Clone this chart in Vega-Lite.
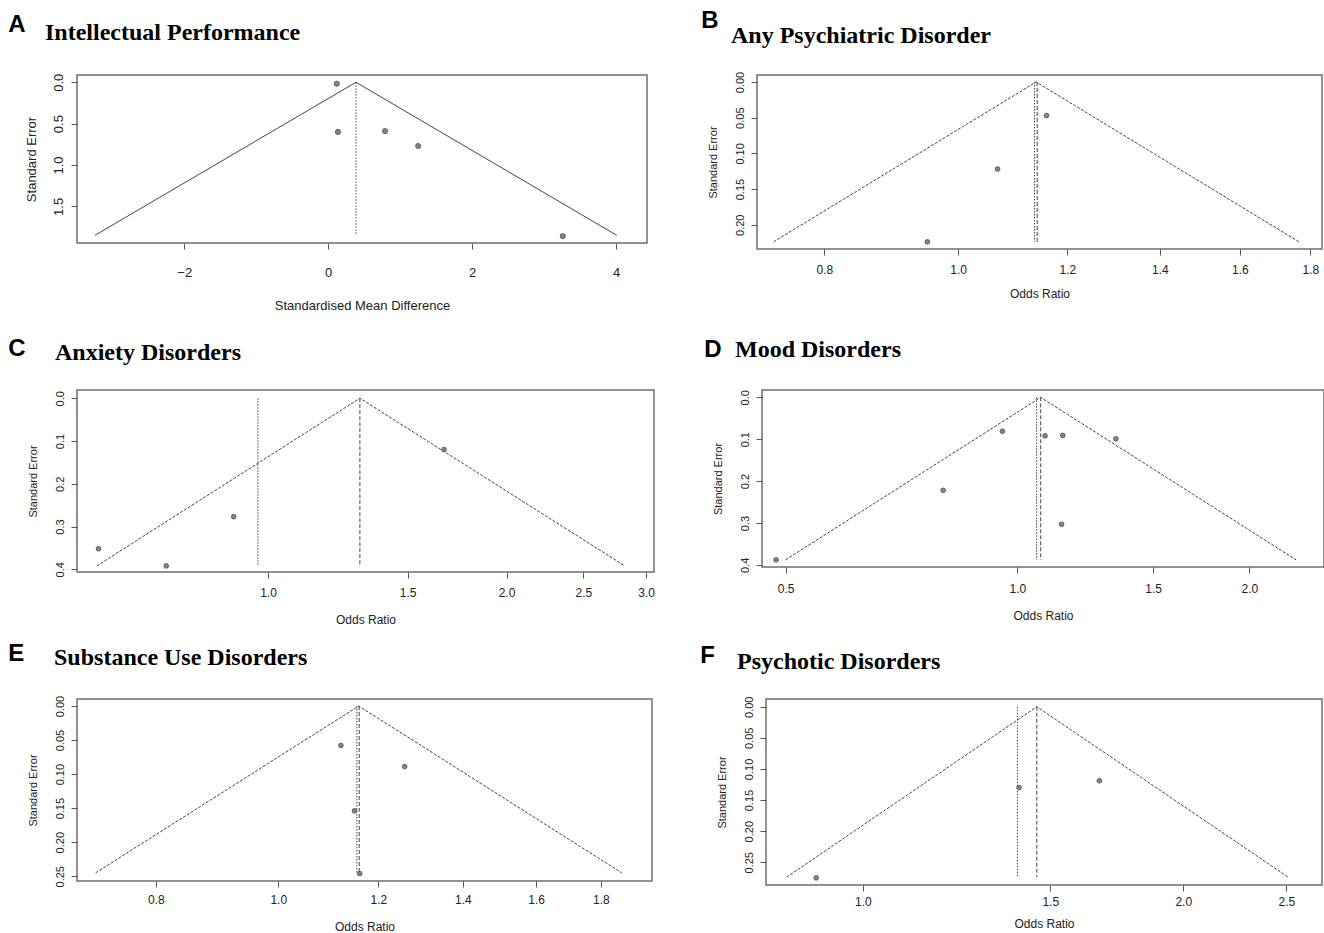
{
  "$schema": "https://vega.github.io/schema/vega-lite/v6.json",
  "background": "white",
  "padding": {"left": 8, "top": 8, "right": 0, "bottom": 0},
  "data": {"values": [
    {"p": "A", "k": "f", "est": -3.24, "se": 1.85},
    {"p": "A", "k": "f", "est": 0.386, "se": 0},
    {"p": "A", "k": "f", "est": 4.01, "se": 1.85},
    {"p": "A", "k": "r", "est": 0.386, "se": 0, "se2": 1.85},
    {"p": "A", "k": "p", "est": 0.12, "se": 0.017},
    {"p": "A", "k": "p", "est": 0.135, "se": 0.6},
    {"p": "A", "k": "p", "est": 0.79, "se": 0.59},
    {"p": "A", "k": "p", "est": 1.25, "se": 0.77},
    {"p": "A", "k": "p", "est": 3.26, "se": 1.86},

    {"p": "B", "k": "f", "est": 0.735, "se": 0.224},
    {"p": "B", "k": "f", "est": 1.139, "se": 0},
    {"p": "B", "k": "f", "est": 1.766, "se": 0.224},
    {"p": "B", "k": "r", "est": 1.136, "se": 0, "se2": 0.224},
    {"p": "B", "k": "x", "est": 1.141, "se": 0, "se2": 0.224},
    {"p": "B", "k": "p", "est": 1.159, "se": 0.047},
    {"p": "B", "k": "p", "est": 1.068, "se": 0.122},
    {"p": "B", "k": "p", "est": 0.95, "se": 0.224},

    {"p": "C", "k": "f", "est": 0.608, "se": 0.392},
    {"p": "C", "k": "f", "est": 1.306, "se": 0},
    {"p": "C", "k": "f", "est": 2.82, "se": 0.392},
    {"p": "C", "k": "r", "est": 0.971, "se": 0, "se2": 0.392},
    {"p": "C", "k": "x", "est": 1.306, "se": 0, "se2": 0.392},
    {"p": "C", "k": "p", "est": 0.611, "se": 0.352},
    {"p": "C", "k": "p", "est": 0.744, "se": 0.392},
    {"p": "C", "k": "p", "est": 0.905, "se": 0.277},
    {"p": "C", "k": "p", "est": 1.668, "se": 0.12},

    {"p": "D", "k": "f", "est": 0.5, "se": 0.388},
    {"p": "D", "k": "f", "est": 1.072, "se": 0},
    {"p": "D", "k": "f", "est": 2.3, "se": 0.388},
    {"p": "D", "k": "r", "est": 1.059, "se": 0, "se2": 0.388},
    {"p": "D", "k": "x", "est": 1.072, "se": 0, "se2": 0.388},
    {"p": "D", "k": "p", "est": 0.486, "se": 0.388},
    {"p": "D", "k": "p", "est": 0.801, "se": 0.222},
    {"p": "D", "k": "p", "est": 0.956, "se": 0.081},
    {"p": "D", "k": "p", "est": 1.086, "se": 0.092},
    {"p": "D", "k": "p", "est": 1.145, "se": 0.091},
    {"p": "D", "k": "p", "est": 1.342, "se": 0.099},
    {"p": "D", "k": "p", "est": 1.141, "se": 0.303},

    {"p": "E", "k": "f", "est": 0.717, "se": 0.245},
    {"p": "E", "k": "f", "est": 1.158, "se": 0},
    {"p": "E", "k": "f", "est": 1.87, "se": 0.245},
    {"p": "E", "k": "r", "est": 1.154, "se": 0, "se2": 0.245},
    {"p": "E", "k": "x", "est": 1.159, "se": 0, "se2": 0.245},
    {"p": "E", "k": "p", "est": 1.121, "se": 0.058},
    {"p": "E", "k": "p", "est": 1.259, "se": 0.089},
    {"p": "E", "k": "p", "est": 1.149, "se": 0.154},
    {"p": "E", "k": "p", "est": 1.16, "se": 0.246},

    {"p": "F", "k": "f", "est": 0.848, "se": 0.274},
    {"p": "F", "k": "f", "est": 1.457, "se": 0},
    {"p": "F", "k": "f", "est": 2.51, "se": 0.274},
    {"p": "F", "k": "r", "est": 1.397, "se": 0, "se2": 0.274},
    {"p": "F", "k": "x", "est": 1.457, "se": 0, "se2": 0.274},
    {"p": "F", "k": "p", "est": 0.904, "se": 0.275},
    {"p": "F", "k": "p", "est": 1.402, "se": 0.13},
    {"p": "F", "k": "p", "est": 1.668, "se": 0.119}
  ]},
  "config": {
    "view": {"stroke": "#6e6e6e", "strokeWidth": 1.5},
    "axis": {"domain": false, "grid": false, "ticks": true, "tickColor": "#555", "tickSize": 6, "tickWidth": 1, "labelFont": "Liberation Sans", "labelColor": "#222", "titleFont": "Liberation Sans", "titleFontWeight": "normal", "titleColor": "#222", "labelFlush": false, "labelOverlap": false},
    "axisX": {"labelFontSize": 12, "labelPadding": 8, "titleFontSize": 12, "titlePadding": 14},
    "axisY": {"labelFontSize": 11, "labelAngle": 270, "labelAlign": "center", "labelBaseline": "bottom", "labelPadding": 6, "titleFontSize": 11, "titlePadding": 16},
    "title": {"anchor": "start", "color": "#000", "fontWeight": "bold"}
  },
  "spacing": 15,
  "vconcat": [
    {"spacing": 23, "vconcat": [
    {"hconcat": [
      {
        "title": {"text": "A", "font": "Liberation Sans", "fontSize": 24, "frame": "bounds", "dx": -16, "offset": -17},
        "vconcat": [{
          "width": 570, "height": 168,
          "title": {"text": "Intellectual Performance", "font": "Liberation Serif", "fontSize": 24, "frame": "group", "dx": -32, "offset": 28},
          "encoding": {
            "x": {"field": "est", "type": "quantitative", "scale": {"domain": [-3.49, 4.43], "nice": false, "zero": false}, "axis": {"title": "Standardised Mean Difference", "values": [-2, 0, 2, 4], "format": "d", "labelFontSize": 13, "labelPadding": 17, "titleFontSize": 13, "titlePadding": 20}},
            "y": {"field": "se", "type": "quantitative", "scale": {"domain": [-0.088, 1.943], "reverse": true, "nice": false, "zero": false}, "axis": {"title": "Standard Error", "values": [0, 0.5, 1, 1.5], "format": ".1f", "labelFontSize": 13, "titleFontSize": 13, "titlePadding": 14}}
          },
          "layer": [
            {"transform": [{"filter": "datum.p==='A' && datum.k==='f'"}], "mark": {"type": "line", "color": "#444", "strokeWidth": 1}, "encoding": {}},
            {"transform": [{"filter": "datum.p==='A' && datum.k==='r'"}], "mark": {"type": "rule", "color": "#444", "strokeWidth": 1, "strokeDash": [1.5, 1.5]}, "encoding": {"y2": {"field": "se2"}}},
            {"transform": [{"filter": "datum.p==='A' && datum.k==='p'"}], "mark": {"type": "circle", "size": 26, "fill": "#858585", "stroke": "#4a4a4a", "strokeWidth": 0.8, "opacity": 1}}
          ]
        }]
      },
      {
        "title": {"text": "B", "font": "Liberation Sans", "fontSize": 24, "frame": "bounds", "dx": -5, "offset": -9},
        "vconcat": [{
          "width": 565, "height": 174,
          "title": {"text": "Any Psychiatric Disorder", "font": "Liberation Serif", "fontSize": 24, "frame": "group", "dx": -26, "offset": 23},
          "encoding": {
            "x": {"field": "est", "type": "quantitative", "scale": {"type": "log", "domain": [0.715, 1.835], "nice": false}, "axis": {"title": "Odds Ratio", "values": [0.8, 1.0, 1.2, 1.4, 1.6, 1.8], "format": ".1f", "labelPadding": 9, "titlePadding": 13}},
            "y": {"field": "se", "type": "quantitative", "scale": {"domain": [-0.0098, 0.234], "reverse": true, "nice": false, "zero": false}, "axis": {"title": "Standard Error", "values": [0, 0.05, 0.1, 0.15, 0.2], "format": ".2f"}}
          },
          "layer": [
            {"transform": [{"filter": "datum.p==='B' && datum.k==='f'"}], "mark": {"type": "line", "color": "#444", "strokeWidth": 1, "strokeDash": [3, 1.5]}, "encoding": {}},
            {"transform": [{"filter": "datum.p==='B' && datum.k==='r'"}], "mark": {"type": "rule", "color": "#444", "strokeWidth": 1, "strokeDash": [1.5, 1.5]}, "encoding": {"y2": {"field": "se2"}}},
            {"transform": [{"filter": "datum.p==='B' && datum.k==='x'"}], "mark": {"type": "rule", "color": "#444", "strokeWidth": 1, "strokeDash": [4, 2]}, "encoding": {"y2": {"field": "se2"}}},
            {"transform": [{"filter": "datum.p==='B' && datum.k==='p'"}], "mark": {"type": "circle", "size": 22, "fill": "#858585", "stroke": "#4a4a4a", "strokeWidth": 0.8, "opacity": 1}}
          ]
        }]
      }
    ], "spacing": 53},
    {"hconcat": [
      {
        "title": {"text": "C", "font": "Liberation Sans", "fontSize": 24, "frame": "bounds", "dx": -18, "offset": -21},
        "vconcat": [{
          "width": 577, "height": 182,
          "title": {"text": "Anxiety Disorders", "font": "Liberation Serif", "fontSize": 24, "frame": "group", "dx": -22, "offset": 25},
          "encoding": {
            "x": {"field": "est", "type": "quantitative", "scale": {"type": "log", "domain": [0.574, 3.07], "nice": false}, "axis": {"title": "Odds Ratio", "values": [1.0, 1.5, 2.0, 2.5, 3.0], "format": ".1f", "labelPadding": 9, "titlePadding": 16}},
            "y": {"field": "se", "type": "quantitative", "scale": {"domain": [-0.0193, 0.4063], "reverse": true, "nice": false, "zero": false}, "axis": {"title": "Standard Error", "values": [0, 0.1, 0.2, 0.3, 0.4], "format": ".1f"}}
          },
          "layer": [
            {"transform": [{"filter": "datum.p==='C' && datum.k==='f'"}], "mark": {"type": "line", "color": "#444", "strokeWidth": 1, "strokeDash": [3, 1.5]}, "encoding": {}},
            {"transform": [{"filter": "datum.p==='C' && datum.k==='r'"}], "mark": {"type": "rule", "color": "#444", "strokeWidth": 1, "strokeDash": [1.5, 1.5]}, "encoding": {"y2": {"field": "se2"}}},
            {"transform": [{"filter": "datum.p==='C' && datum.k==='x'"}], "mark": {"type": "rule", "color": "#444", "strokeWidth": 1, "strokeDash": [4, 2]}, "encoding": {"y2": {"field": "se2"}}},
            {"transform": [{"filter": "datum.p==='C' && datum.k==='p'"}], "mark": {"type": "circle", "size": 22, "fill": "#858585", "stroke": "#4a4a4a", "strokeWidth": 0.8, "opacity": 1}}
          ]
        }]
      },
      {
        "title": {"text": "D", "font": "Liberation Sans", "fontSize": 24, "frame": "bounds", "dx": -7, "offset": -25},
        "vconcat": [{
          "width": 562, "height": 177,
          "title": {"text": "Mood Disorders", "font": "Liberation Serif", "fontSize": 24, "frame": "group", "dx": -27, "offset": 28},
          "encoding": {
            "x": {"field": "est", "type": "quantitative", "scale": {"type": "log", "domain": [0.466, 2.5], "nice": false}, "axis": {"title": "Odds Ratio", "values": [0.5, 1.0, 1.5, 2.0], "format": ".1f", "labelPadding": 10, "titlePadding": 16}},
            "y": {"field": "se", "type": "quantitative", "scale": {"domain": [-0.0175, 0.405], "reverse": true, "nice": false, "zero": false}, "axis": {"title": "Standard Error", "values": [0, 0.1, 0.2, 0.3, 0.4], "format": ".1f"}}
          },
          "layer": [
            {"transform": [{"filter": "datum.p==='D' && datum.k==='f'"}], "mark": {"type": "line", "color": "#444", "strokeWidth": 1, "strokeDash": [3, 1.5]}, "encoding": {}},
            {"transform": [{"filter": "datum.p==='D' && datum.k==='r'"}], "mark": {"type": "rule", "color": "#444", "strokeWidth": 1, "strokeDash": [1.5, 1.5]}, "encoding": {"y2": {"field": "se2"}}},
            {"transform": [{"filter": "datum.p==='D' && datum.k==='x'"}], "mark": {"type": "rule", "color": "#444", "strokeWidth": 1, "strokeDash": [4, 2]}, "encoding": {"y2": {"field": "se2"}}},
            {"transform": [{"filter": "datum.p==='D' && datum.k==='p'"}], "mark": {"type": "circle", "size": 22, "fill": "#858585", "stroke": "#4a4a4a", "strokeWidth": 0.8, "opacity": 1}}
          ]
        }]
      }
    ], "spacing": 48}
    ]},
    {"hconcat": [
      {
        "title": {"text": "E", "font": "Liberation Sans", "fontSize": 24, "frame": "bounds", "dx": -18, "offset": -20},
        "vconcat": [{
          "width": 575, "height": 182,
          "title": {"text": "Substance Use Disorders", "font": "Liberation Serif", "fontSize": 24, "frame": "group", "dx": -23, "offset": 25},
          "encoding": {
            "x": {"field": "est", "type": "quantitative", "scale": {"type": "log", "domain": [0.693, 1.976], "nice": false}, "axis": {"title": "Odds Ratio", "values": [0.8, 1.0, 1.2, 1.4, 1.6, 1.8], "format": ".1f", "labelPadding": 7, "titlePadding": 16}},
            "y": {"field": "se", "type": "quantitative", "scale": {"domain": [-0.0103, 0.257], "reverse": true, "nice": false, "zero": false}, "axis": {"title": "Standard Error", "values": [0, 0.05, 0.1, 0.15, 0.2, 0.25], "format": ".2f"}}
          },
          "layer": [
            {"transform": [{"filter": "datum.p==='E' && datum.k==='f'"}], "mark": {"type": "line", "color": "#444", "strokeWidth": 1, "strokeDash": [3, 1.5]}, "encoding": {}},
            {"transform": [{"filter": "datum.p==='E' && datum.k==='r'"}], "mark": {"type": "rule", "color": "#444", "strokeWidth": 1, "strokeDash": [1.5, 1.5]}, "encoding": {"y2": {"field": "se2"}}},
            {"transform": [{"filter": "datum.p==='E' && datum.k==='x'"}], "mark": {"type": "rule", "color": "#444", "strokeWidth": 1, "strokeDash": [4, 2]}, "encoding": {"y2": {"field": "se2"}}},
            {"transform": [{"filter": "datum.p==='E' && datum.k==='p'"}], "mark": {"type": "circle", "size": 22, "fill": "#858585", "stroke": "#4a4a4a", "strokeWidth": 0.8, "opacity": 1}}
          ]
        }]
      },
      {
        "title": {"text": "F", "font": "Liberation Sans", "fontSize": 24, "frame": "bounds", "dx": -15, "offset": -19},
        "vconcat": [{
          "width": 556, "height": 186,
          "title": {"text": "Psychotic Disorders", "font": "Liberation Serif", "fontSize": 24, "frame": "group", "dx": -29, "offset": 22},
          "encoding": {
            "x": {"field": "est", "type": "quantitative", "scale": {"type": "log", "domain": [0.811, 2.7], "nice": false}, "axis": {"title": "Odds Ratio", "values": [1.0, 1.5, 2.0, 2.5], "format": ".1f", "labelPadding": 5, "titlePadding": 11}},
            "y": {"field": "se", "type": "quantitative", "scale": {"domain": [-0.0124, 0.2865], "reverse": true, "nice": false, "zero": false}, "axis": {"title": "Standard Error", "values": [0, 0.05, 0.1, 0.15, 0.2, 0.25], "format": ".2f"}}
          },
          "layer": [
            {"transform": [{"filter": "datum.p==='F' && datum.k==='f'"}], "mark": {"type": "line", "color": "#444", "strokeWidth": 1, "strokeDash": [3, 1.5]}, "encoding": {}},
            {"transform": [{"filter": "datum.p==='F' && datum.k==='r'"}], "mark": {"type": "rule", "color": "#444", "strokeWidth": 1, "strokeDash": [1.5, 1.5]}, "encoding": {"y2": {"field": "se2"}}},
            {"transform": [{"filter": "datum.p==='F' && datum.k==='x'"}], "mark": {"type": "rule", "color": "#444", "strokeWidth": 1, "strokeDash": [4, 2]}, "encoding": {"y2": {"field": "se2"}}},
            {"transform": [{"filter": "datum.p==='F' && datum.k==='p'"}], "mark": {"type": "circle", "size": 22, "fill": "#858585", "stroke": "#4a4a4a", "strokeWidth": 0.8, "opacity": 1}}
          ]
        }]
      }
    ], "spacing": 47}
  ]
}
